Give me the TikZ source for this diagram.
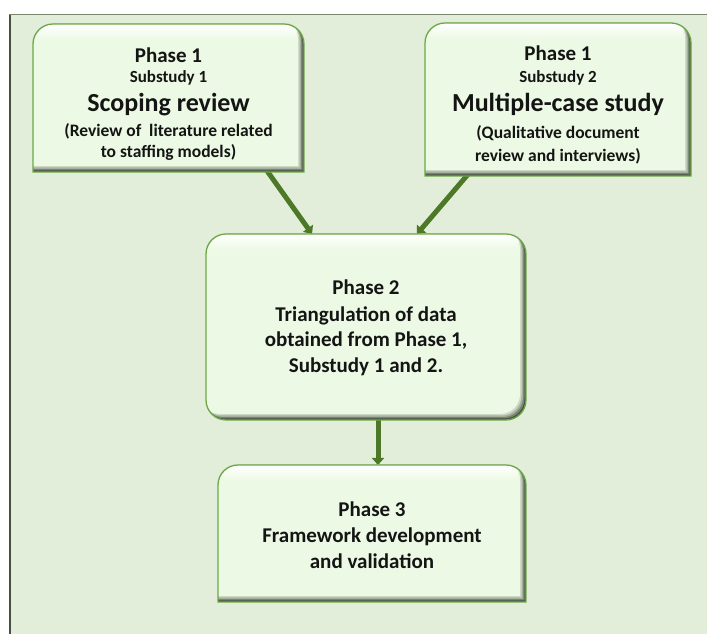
\documentclass[tikz,border=0pt]{standalone}
\usepackage{fontspec}
\setmainfont{Carlito}
\usetikzlibrary{arrows.meta}
\definecolor{panelbg}{RGB}{226,238,218}
\definecolor{panelline}{RGB}{120,134,110}
\definecolor{boxgreen}{RGB}{236,249,228}
\definecolor{boxborder}{RGB}{108,168,70}
\definecolor{bevdark}{RGB}{70,82,62}
\definecolor{bevmidA}{RGB}{120,132,112}
\definecolor{bevmidB}{RGB}{165,176,158}
\definecolor{bevmidC}{RGB}{205,216,198}
\definecolor{arrowgreen}{RGB}{76,120,40}
\definecolor{txtcol}{RGB}{20,20,20}
\newcommand{\pathTop}[4]{(#1,#2) -- (#1,#4-20) arc[start angle=180,end angle=90,radius=20pt] -- (#3-20,#4) arc[start angle=90,end angle=0,radius=20pt] -- (#3,#2) -- cycle}
\newcommand{\pathAll}[4]{(#1,#2+20) -- (#1,#4-20) arc[start angle=180,end angle=90,radius=20pt] -- (#3-20,#4) arc[start angle=90,end angle=0,radius=20pt] -- (#3,#2+20) arc[start angle=0,end angle=-90,radius=20pt] -- (#1+20,#2) arc[start angle=270,end angle=180,radius=20pt] -- cycle}
\newcommand{\bevelbox}[5]{%
  \begin{scope}
    \clip #1{#2}{#3}{#4}{#5};
    \fill[bevdark] #1{#2}{#3}{#4}{#5};
    \fill[bevmidA,shift={(-1.5pt,1.5pt)}] #1{#2}{#3}{#4}{#5};
    \fill[bevmidB,shift={(-3pt,3pt)}] #1{#2}{#3}{#4}{#5};
    \fill[bevmidC,shift={(-4.5pt,4.5pt)}] #1{#2}{#3}{#4}{#5};
    \fill[boxgreen,shift={(-6pt,6pt)}] #1{#2}{#3}{#4}{#5};
    \shade[top color=white,bottom color=boxgreen] (#2,#5-16) rectangle (#4-8,#5);
  \end{scope}
  \draw[boxborder,line width=1.3pt] #1{#2}{#3}{#4}{#5};
}
\tikzset{
  holder/.style={draw=none,inner sep=0pt,outer sep=0pt},
  txt/.style={anchor=base,inner sep=0pt,text=txtcol},
  conn/.style={draw=arrowgreen,line width=5pt,-{Triangle[width=12pt,length=7pt]}},
}
\newcommand{\fphase}{\fontsize{21}{24}\bfseries\selectfont}
\newcommand{\fsub}{\fontsize{17}{20}\bfseries\selectfont}
\newcommand{\ftitle}{\fontsize{26}{30}\bfseries\selectfont}
\newcommand{\fparen}{\fontsize{17.5}{20}\bfseries\selectfont}
\begin{document}
\begin{tikzpicture}[x=1pt,y=1pt]
\useasboundingbox (0,0) rectangle (707,634);
\fill[white] (0,0) rectangle (707,634);
% panel
\fill[panelbg] (9,0) rectangle (707,619);
\draw[panelline,line width=1pt] (9,619) -- (707,619);
\draw[bevdark,line width=2pt] (10,0) -- (10,619);
% holder nodes
\node[holder,minimum width=271pt,minimum height=148pt] (b1) at (168.5,536) {};
\node[holder,minimum width=266pt,minimum height=153pt] (b2) at (558,534.5) {};
\node[holder,minimum width=320pt,minimum height=186pt] (b3) at (366,307) {};
\node[holder,minimum width=308pt,minimum height=137pt] (b4) at (372,100.5) {};
% connectors
\draw[conn] ([xshift=96.5pt,yshift=4pt]b1.south) -- ([xshift=-54pt]b3.north);
\draw[conn] ([xshift=-88pt,yshift=4pt]b2.south) -- ([xshift=51pt]b3.north);
\draw[conn] ([xshift=12pt,yshift=4pt]b3.south) -- ([xshift=6pt]b4.north);
% boxes
\bevelbox{\pathTop}{33}{462}{304}{610}
\bevelbox{\pathTop}{425}{458}{691}{611}
\bevelbox{\pathAll}{206}{214}{526}{400}
\bevelbox{\pathTop}{218}{32}{526}{169}
% texts box 1
\node[txt,font=\fphase] (t11) at (168.5,571) {Phase 1};
\node[txt,font=\fsub] (t12) at (168.5,551) {Substudy 1};
\node[txt,font=\ftitle] (t13) at (168.5,522) {Scoping review};
\node[txt,font=\fparen] (t14) at (168.5,497) {(Review of\ \ literature related};
\node[txt,font=\fparen] (t15) at (168.5,476) {to staffing models)};
% texts box 2
\node[txt,font=\fphase] (t21) at (558,573) {Phase 1};
\node[txt,font=\fsub] (t22) at (558,551) {Substudy 2};
\node[txt,font=\ftitle] (t23) at (558,522) {Multiple-case study};
\node[txt,font=\fparen] (t24) at (558,495) {(Qualitative document};
\node[txt,font=\fparen] (t25) at (558,472) {review and interviews)};
% texts box 3
\node[txt,font=\fphase] (t31) at (366,339) {Phase 2};
\node[txt,font=\fphase] (t32) at (366,312) {Triangulation of data};
\node[txt,font=\fphase] (t33) at (366,287) {obtained from Phase 1,};
\node[txt,font=\fphase] (t34) at (366,261) {Substudy 1 and 2.};
% texts box 4
\node[txt,font=\fphase] (t41) at (372,117) {Phase 3};
\node[txt,font=\fphase] (t42) at (372,91) {Framework development};
\node[txt,font=\fphase] (t43) at (372,65) {and validation};
\end{tikzpicture}
\end{document}
